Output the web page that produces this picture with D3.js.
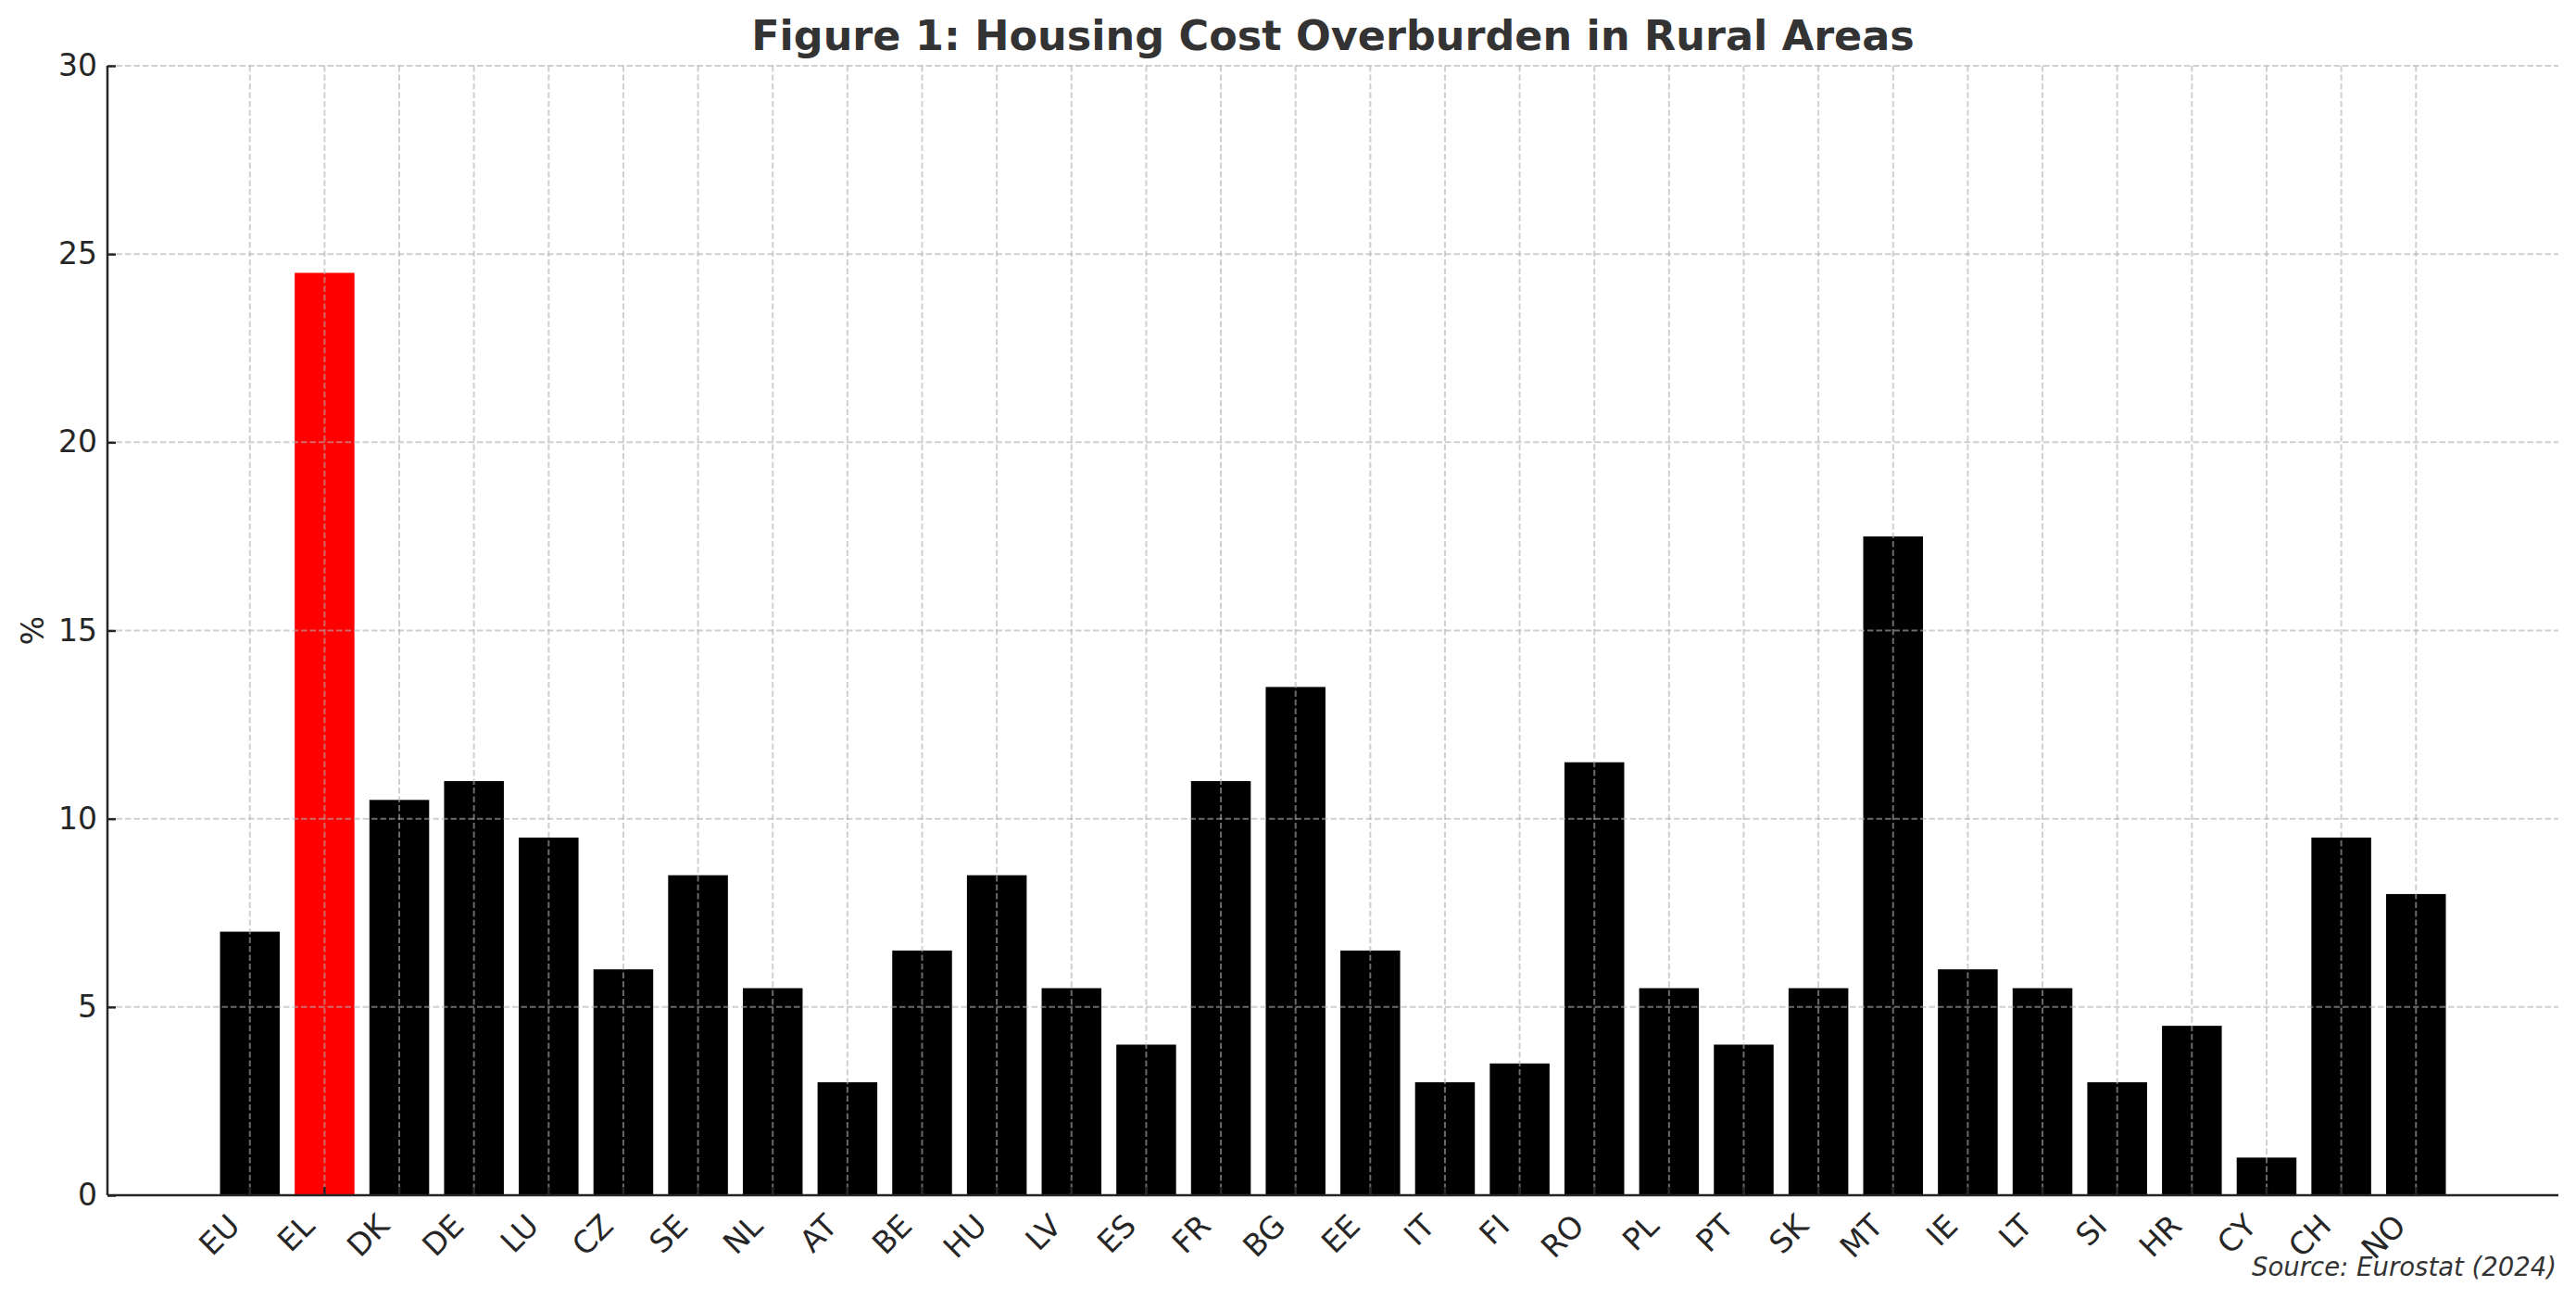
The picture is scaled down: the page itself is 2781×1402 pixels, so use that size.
<!DOCTYPE html>
<html>
<head>
<meta charset="utf-8">
<script src="https://cdn.jsdelivr.net/npm/d3@7"></script>
<style>
  html, body { margin: 0; padding: 0; background: #fff; }
  svg { display: block; font-family: "DejaVu Sans", sans-serif; }
</style>
</head>
<body>
<script>
const categories = ["EU","EL","DK","DE","LU","CZ","SE","NL","AT","BE","HU","LV","ES","FR","BG","EE","IT","FI","RO","PL","PT","SK","MT","IE","LT","SI","HR","CY","CH","NO"];
const values = [7, 24.5, 10.5, 11, 9.5, 6, 8.5, 5.5, 3, 6.5, 8.5, 5.5, 4, 11, 13.5, 6.5, 3, 3.5, 11.5, 5.5, 4, 5.5, 17.5, 6, 5.5, 3, 4.5, 1, 9.5, 8];
const yTicks = [0, 5, 10, 15, 20, 25, 30];
const highlight = "EL";
const titleText = "Figure 1: Housing Cost Overburden in Rural Areas";
const yLabel = "%";
const sourceText = "Source: Eurostat (2024)";

const W = 2781, H = 1402;
const mLeft = 116, mRight = 2762, mTop = 71, mBottom = 1290;

const svg = d3.select("body").append("svg").attr("width", W).attr("height", H);

const x = d3.scaleBand().domain(categories).range([mLeft, mRight])
  .paddingInner(0.2).paddingOuter(1.507);
const y = d3.scaleLinear().domain([0, 30]).range([mBottom, mTop]);

// bars
svg.append("g").selectAll("rect").data(categories).join("rect")
  .attr("x", d => x(d))
  .attr("width", x.bandwidth())
  .attr("y", (d, i) => y(values[i]))
  .attr("height", (d, i) => y(0) - y(values[i]))
  .attr("fill", d => d === highlight ? "#ff0000" : "#000000");

// grid
const grid = svg.append("g").attr("stroke", "#b0b0b0").attr("stroke-opacity", 0.6)
  .attr("stroke-width", 2).attr("stroke-dasharray", "6.5,3");
grid.selectAll("line.h").data(yTicks).join("line").attr("class", "h")
  .attr("x1", mLeft).attr("x2", mRight)
  .attr("y1", d => y(d)).attr("y2", d => y(d));
grid.selectAll("line.v").data(categories).join("line").attr("class", "v")
  .attr("x1", d => x(d) + x.bandwidth() / 2).attr("x2", d => x(d) + x.bandwidth() / 2)
  .attr("y1", mTop).attr("y2", mBottom);

// y axis
const yAxis = svg.append("g").attr("transform", `translate(${mLeft},0)`)
  .call(d3.axisLeft(y).tickValues(yTicks).tickSizeInner(-9).tickSizeOuter(0).tickPadding(11));
yAxis.select(".domain").attr("stroke", "#262626").attr("stroke-width", 2.5)
  .attr("d", `M0,${mBottom}V${mTop}`);
yAxis.selectAll(".tick line").attr("stroke", "#262626").attr("stroke-width", 2.5);
yAxis.selectAll(".tick text").attr("fill", "#262626")
  .style("font-size", "33px").style("font-family", "DejaVu Sans");

// x axis
const xAxis = svg.append("g").attr("transform", `translate(0,${mBottom})`)
  .call(d3.axisBottom(x).tickSizeInner(-9).tickSizeOuter(0).tickPadding(0));
xAxis.select(".domain").attr("stroke", "#262626").attr("stroke-width", 2.5)
  .attr("d", `M${mLeft},0H${mRight}`);
xAxis.selectAll(".tick line").attr("stroke", "#262626").attr("stroke-width", 2.5);
xAxis.selectAll(".tick text")
  .attr("fill", "#262626")
  .style("font-size", "33px").style("font-family", "DejaVu Sans")
  .attr("text-anchor", "end")
  .attr("dy", null)
  .attr("y", null)
  .attr("transform", "translate(-9,35) rotate(-45)");

// y label
svg.append("text")
  .attr("transform", `translate(35,${(mTop + mBottom) / 2}) rotate(-90)`)
  .attr("text-anchor", "middle").attr("dy", "0.35em")
  .attr("fill", "#262626").style("font-size", "33px")
  .text(yLabel);

// title
svg.append("text")
  .attr("x", (mLeft + mRight) / 2).attr("y", 54)
  .attr("text-anchor", "middle")
  .attr("fill", "#333333").style("font-size", "44.5px").style("font-weight", "bold")
  .text(titleText);

// source
svg.append("text")
  .attr("x", 2760).attr("y", 1377)
  .attr("text-anchor", "end")
  .attr("fill", "#333333").style("font-size", "27.5px").style("font-style", "italic")
  .text(sourceText);
</script>
</body>
</html>
